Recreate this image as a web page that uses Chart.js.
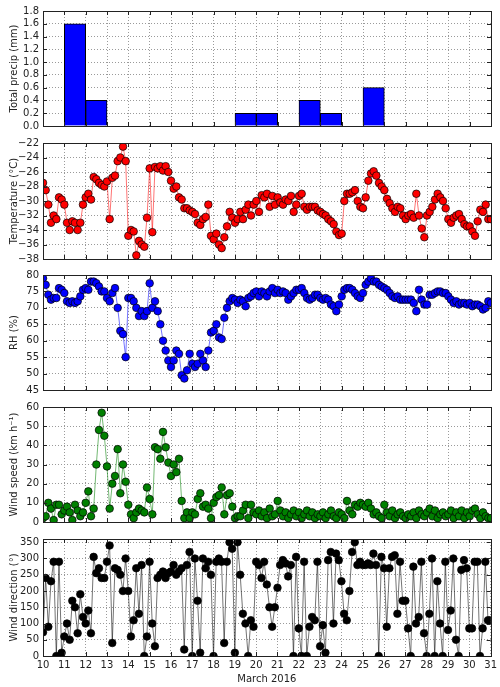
<!DOCTYPE html>
<html>
<head>
<meta charset="utf-8">
<script src="https://cdn.jsdelivr.net/npm/chart.js@4.4.0/dist/chart.umd.min.js"></script>
<style>
  body { margin: 0; background: #fff; }
  #wrap { position: relative; width: 500px; height: 687px; }
  canvas { position: absolute; left: 0; }
</style>
</head>
<body>
<div id="wrap">
  <canvas id="precipChart" width="500" height="135" style="top:1px"></canvas>
  <canvas id="tempChart" width="500" height="136" style="top:133px"></canvas>
  <canvas id="rhChart" width="500" height="135" style="top:265px"></canvas>
  <canvas id="wsChart" width="500" height="135" style="top:397px"></canvas>
  <canvas id="wdChart" width="500" height="158" style="top:529px"></canvas>
</div>
<script>
// x axis: days of March 2016, observations every 3 hours from day 10
const dayTicks = [10,11,12,13,14,15,16,17,18,19,20,21,22,23,24,25,26,27,28,29,30,31];
const startDay = 10;
const perDay = 8;

// daily precipitation (mm)
const precipDays = [11, 12, 19, 20, 22, 23, 25];
const precip = [1.6, 0.4, 0.2, 0.2, 0.4, 0.2, 0.6];

const precipTicks = [0, 0.2, 0.4, 0.6, 0.8, 1.0, 1.2, 1.4, 1.6, 1.8];
const tempTicks = [-38, -36, -34, -32, -30, -28, -26, -24, -22];
const rhTicks = [45, 50, 55, 60, 65, 70, 75, 80];
const wsTicks = [0, 10, 20, 30, 40, 50, 60];
const wdTicks = [0, 50, 100, 150, 200, 250, 300, 350];

const temp = [
  -27.5, -28.5, -30.5, -33, -32, -32.5, -29.5, -29.8,
  -30.5, -33, -34, -32.8, -33, -34, -33, -30.5,
  -29.5, -29, -29.8, -26.7, -27, -27.5, -27.8, -28,
  -27.3, -32.5, -26.8, -26.5, -24.5, -24, -22.5, -24.5,
  -34.8, -34, -34.2, -37.5, -35.5, -36, -36.3, -32.3,
  -25.5, -34.3, -25.3, -25.5, -25.2, -25.8, -25.2, -26,
  -27.2, -28.3, -28, -29.5, -29.8, -31, -31, -31.3,
  -31.5, -31.8, -33, -33.3, -32.5, -32.2, -30.5, -34.8,
  -35.3, -34.5, -36, -36.5, -35, -33.5, -31.5, -32.3,
  -33, -32.5, -31.5, -32.5, -31.2, -30.5, -32, -30.5,
  -30, -31.5, -29.2, -29.5, -29, -30.8, -29.3, -30.5,
  -29.5, -30.2, -30.5, -29.8, -30, -29.3, -31.5, -30.5,
  -29.3, -29, -30.8, -31.2, -30.8, -30.8, -30.8, -31.3,
  -31.5, -31.8, -32, -32.5, -32.8, -33.2, -34.2, -34.7,
  -34.5, -30, -29, -29, -28.8, -28.5, -30, -30.8,
  -31, -29.5, -27.2, -26.2, -25.9, -26.5, -27.5, -28,
  -28.5, -29.7, -30.3, -31, -31.5, -30.8, -31, -32,
  -32.5, -32, -31.8, -32.3, -29, -32, -33.8, -35,
  -32, -31.5, -30.8, -29.8, -29, -29.5, -30, -31,
  -32.5, -33, -32.3, -32, -31.8, -32.5, -33.2, -33.5,
  -33.5, -34.2, -34.8, -32.8, -31.2, -31.5, -30.5, -32.5,
  -32.5
];

const rh = [
  79, 77, 74, 72.5, 73, 73, 76, 75.5,
  74.5, 72, 71.5, 72, 71.5, 72, 73.5, 75.5,
  76, 75.5, 78, 78, 77.5, 76.5, 75, 75,
  73, 72, 74.5, 76, 70, 63, 62, 55,
  73, 73, 72, 70, 67.5, 69, 67.5, 69,
  77.5, 70, 72, 69, 65, 60, 57, 54,
  52, 54, 57, 56, 49.5, 48.5, 51, 56,
  53, 52, 53, 56, 54, 52, 57, 62.5,
  63, 65, 61, 60.5, 67, 70, 72, 73,
  72.5, 71.5, 72.5, 72, 70.5, 73, 73.5, 74.5,
  75, 73.5, 75, 74.5, 73.5, 75, 76, 74.5,
  75.5, 74.5, 75, 74.5, 72.5, 73.5, 74.5, 75.5,
  75.5, 76, 74.5, 73, 72.5, 73, 74, 74,
  73, 72.5, 73, 72.5, 71, 70.5, 69, 71,
  73.5, 75.5, 76, 76, 75.5, 74.5, 73.5, 73,
  74.5, 77, 78, 79, 78, 78, 77, 76.5,
  76, 75.5, 74.5, 73.5, 73, 73.5, 72.5, 72.5,
  72.5, 72.5, 72.5, 71.5, 69, 75.5, 72.5, 71,
  71, 74, 74, 74.5, 75, 75, 74.5, 74.5,
  73.5, 72.5, 71.5, 72, 71, 71.5, 71.5, 71,
  71.5, 70.5, 71, 71, 70.5, 69.5, 70, 72,
  71.5
];

const windSpeed = [
  2, 3, 10, 7, 1, 9, 9, 4,
  6, 8, 5, 1, 9, 6, 3, 5,
  10, 16, 3, 7, 30, 48, 57, 45,
  29, 7, 20, 24, 38, 15, 30, 21,
  9, 4, 2, 5, 7, 6, 5, 18,
  12, 4, 39, 38, 33, 47, 39, 31,
  24, 30, 26, 33, 11, 2, 5, 2,
  5, 4, 12, 15, 8, 9, 7, 2,
  10, 13, 14, 18, 4, 14, 15, 8,
  2, 3, 3, 6, 9, 2, 9, 5,
  4, 6, 3, 5, 2, 7, 3, 4,
  11, 6, 3, 5, 2, 4, 6, 3,
  5, 2, 4, 6, 3, 5, 2, 4,
  3, 5, 2, 4, 6, 3, 2, 5,
  4, 2, 11, 6, 4, 9, 8, 10,
  9, 8, 10, 7, 4, 5, 3, 2,
  9, 5, 3, 6, 2, 4, 5, 3,
  2, 4, 3, 5, 2, 6, 4, 3,
  5, 7, 3, 6, 2, 4, 5, 3,
  4, 6, 2, 5, 3, 6, 2, 5,
  3, 6, 7, 4, 2, 5, 3, 2,
  2
];

const windDir = [
  73, 240, 90, 230, 290, 0, 290, 10,
  60, 100, 50, 170, 150, 70, 190, 120,
  100, 140, 70, 305, 255, 270, 240, 240,
  290, 340, 40, 270, 265, 250, 200, 300,
  200, 60, 110, 270, 130, 280, 0, 60,
  290, 100, 30, 240, 250, 260, 240, 255,
  260, 280, 250, 260, 270, 20, 280, 320,
  0, 300, 170, 10, 300, 270, 290, 250,
  0, 290, 300, 290, 40, 290, 350, 330,
  10, 350, 250, 130, 100, 0, 110, 90,
  290, 280, 240, 290, 220, 150, 90, 150,
  210, 280, 295, 285, 245, 280, 0, 305,
  85, 0, 290, 0, 90, 120, 110, 290,
  30, 95, 10, 295, 320, 100, 315, 295,
  230, 130, 110, 200, 320, 350, 280, 290,
  280, 280, 285, 280, 315, 280, 0, 305,
  270, 90, 270, 305, 310, 130, 290, 170,
  170, 85, 0, 275, 100, 120, 290, 70,
  0, 130, 300, 0, 230, 100, 0, 290,
  80, 140, 300, 50, 0, 265, 295, 270,
  85, 85, 290, 290, 0, 85, 290, 110,
  110
];

const FONT = { family: 'DejaVu Sans', size: 10 };
const TEXT = '#222';
const GRID = { color: '#9a9a9a', lineWidth: 1, drawTicks: false };
const BORDER = { display: false, dash: [1, 2] };

function series(values) {
  return values.map((v, i) => ({ x: startDay + i / perDay, y: v }));
}

function fmtMinus(v) {
  return String(v).replace('-', '\u2212');
}

const frame = {
  id: 'frame',
  afterDatasetsDraw(chart) {
    const { ctx, chartArea: a, scales } = chart;
    ctx.save();
    ctx.strokeStyle = '#222';
    ctx.lineWidth = 1;
    ctx.beginPath();
    scales.x.ticks.forEach(t => {
      const px = Math.round(scales.x.getPixelForValue(t.value)) + 0.5;
      ctx.moveTo(px, a.top); ctx.lineTo(px, a.top + 4);
      ctx.moveTo(px, a.bottom); ctx.lineTo(px, a.bottom - 4);
    });
    scales.y.ticks.forEach(t => {
      const py = Math.round(scales.y.getPixelForValue(t.value)) + 0.5;
      ctx.moveTo(a.left, py); ctx.lineTo(a.left + 4, py);
      ctx.moveTo(a.right, py); ctx.lineTo(a.right - 4, py);
    });
    ctx.stroke();
    ctx.strokeRect(Math.round(a.left) + 0.5, Math.round(a.top) + 0.5,
      Math.round(a.right - a.left), Math.round(a.bottom - a.top));
    ctx.restore();
  }
};

function makeChart(id, cfg) {
  const last = !!cfg.last;
  return new Chart(document.getElementById(id), {
    type: cfg.type,
    data: { datasets: cfg.datasets },
    plugins: [frame],
    options: {
      responsive: false,
      animation: false,
      layout: { autoPadding: false, padding: { top: 8, bottom: last ? 0 : 8, left: 0, right: 9 } },
      plugins: { legend: { display: false }, tooltip: { enabled: false } },
      scales: {
        x: {
          type: 'linear',
          min: 10, max: 31,
          offset: false,
          border: BORDER,
          grid: Object.assign({ offset: false }, GRID),
          afterBuildTicks: s => { s.ticks = dayTicks.map(v => ({ value: v })); },
          afterFit: s => { s.height = last ? 31 : 0; },
          ticks: { display: last, font: FONT, color: TEXT, padding: 3, maxRotation: 0, autoSkip: false },
          title: { display: last, text: 'March 2016', font: FONT, color: TEXT, padding: { top: 0, bottom: 2 } }
        },
        y: {
          min: cfg.min, max: cfg.max,
          border: BORDER,
          grid: GRID,
          afterBuildTicks: s => { s.ticks = cfg.ticks.map(v => ({ value: v })); },
          afterFit: s => { s.width = 43; },
          ticks: { font: FONT, color: TEXT, padding: 4, autoSkip: false, callback: cfg.fmt },
          title: { display: true, text: cfg.title, font: FONT, color: TEXT, padding: { top: 8, bottom: 0 } }
        }
      }
    }
  });
}

function lineSet(values, fill, line) {
  return {
    data: series(values),
    borderColor: line,
    borderWidth: 1,
    pointRadius: 3.8,
    pointBackgroundColor: fill,
    pointBorderColor: '#000',
    pointBorderWidth: 0.7,
    tension: 0
  };
}

makeChart('precipChart', {
  type: 'bar',
  min: 0, max: 1.8, ticks: precipTicks,
  fmt: v => v.toFixed(1),
  title: 'Total precip (mm)',
  datasets: [{
    data: precipDays.map((d, i) => ({ x: d + 0.5, y: precip[i] })),
    backgroundColor: '#0000ff',
    borderColor: '#000',
    borderWidth: 1,
    barPercentage: 1,
    categoryPercentage: 1
  }]
});

makeChart('tempChart', {
  type: 'line',
  min: -38, max: -22, ticks: tempTicks,
  fmt: fmtMinus,
  title: 'Temperature (\u00B0C)',
  datasets: [lineSet(temp, '#ff0000', 'rgba(255,0,0,0.55)')]
});

makeChart('rhChart', {
  type: 'line',
  min: 45, max: 80, ticks: rhTicks,
  fmt: v => v,
  title: 'RH (%)',
  datasets: [lineSet(rh, '#0000ff', 'rgba(0,0,255,0.55)')]
});

makeChart('wsChart', {
  type: 'line',
  min: 0, max: 60, ticks: wsTicks,
  fmt: v => v,
  title: 'Wind speed (km h\u207B\u00B9)',
  datasets: [lineSet(windSpeed, '#008000', 'rgba(0,128,0,0.55)')]
});

makeChart('wdChart', {
  type: 'line',
  min: 0, max: 360, ticks: wdTicks,
  fmt: v => v,
  title: 'Wind direction (\u00B0)',
  last: true,
  datasets: [lineSet(windDir, '#000000', 'rgba(0,0,0,0.55)')]
});
</script>
</body>
</html>
